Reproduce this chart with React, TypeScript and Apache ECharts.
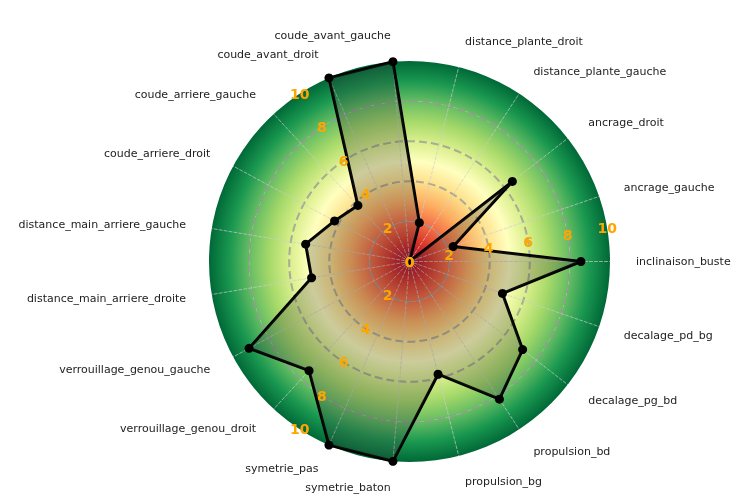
import React, { useEffect, useRef } from 'react';
import * as echarts from 'echarts';

// Axis categories (counter-clockwise starting from the right)
const categories: string[] = [
  'inclinaison_buste',
  'ancrage_gauche',
  'ancrage_droit',
  'distance_plante_gauche',
  'distance_plante_droit',
  'coude_avant_gauche',
  'coude_avant_droit',
  'coude_arriere_gauche',
  'coude_arriere_droit',
  'distance_main_arriere_gauche',
  'distance_main_arriere_droite',
  'verrouillage_genou_gauche',
  'verrouillage_genou_droit',
  'symetrie_pas',
  'symetrie_baton',
  'propulsion_bg',
  'propulsion_bd',
  'decalage_pg_bd',
  'decalage_pd_bg',
];

// Scores
const scores: number[] = [8.55, 2.3, 6.5, 0, 2.0, 10, 10, 3.8, 4.25, 5.25, 4.95, 9.1, 7.4, 10, 10, 5.8, 8.2, 7.15, 4.9];

const scoreMin = 0;
const scoreMax = 10;
const splitCount = 5; // ticks 0,2,4,6,8,10

// radial tick labels sit half-way between axes, on slots of a doubled grid
const labelSlots: number[] = [1, 13, 25];

// RdYlGn colour map (value 0..10)
const colormap: string[] = [
  '#a50026', '#d73027', '#f46d43', '#fdae61', '#fee08b', '#ffffbf',
  '#d9ef8b', '#a6d96a', '#66bd63', '#1a9850', '#006837',
];

function ringGradient(outerValue: number) {
  const stops: { offset: number; color: string }[] = [];
  for (let k = 0; k <= outerValue; k++) {
    stops.push({ offset: k / outerValue, color: colormap[k] });
  }
  return new echarts.graphic.RadialGradient(0.5, 0.5, 0.5, stops);
}

export default function App() {
  const ref = useRef<HTMLDivElement>(null);

  useEffect(() => {
    if (!ref.current) return;
    const chart = echarts.init(ref.current, undefined, { renderer: 'svg' });
    const step = (scoreMax - scoreMin) / splitCount;
    const ringColors = [];
    for (let i = 0; i < splitCount; i++) ringColors.push(ringGradient((i + 1) * step));

    const gridColor = 'rgba(150,150,150,0.75)';
    const splitColors = ['rgba(0,0,0,0)'];
    for (let i = 1; i < splitCount; i++) splitColors.push(gridColor);
    splitColors.push('rgba(0,0,0,0)');

    const center = [409.5, 261.5];
    const radius = 200.5;
    const font = 'DejaVu Sans, sans-serif';

    const labelIndicators = [];
    for (let i = 0; i < categories.length * 2; i++) {
      labelIndicators.push({
        name: '',
        min: scoreMin,
        max: scoreMax,
        axisLabel: { show: labelSlots.includes(i) },
      });
    }

    chart.setOption({
      animation: false,
      radar: [
        {
          center,
          radius,
          startAngle: 0,
          shape: 'circle',
          splitNumber: splitCount,
          indicator: categories.map((c) => ({ name: c, min: scoreMin, max: scoreMax })),
          axisName: { color: '#222222', fontSize: 11, fontFamily: font },
          nameGap: 26,
          splitArea: { show: true, areaStyle: { color: ringColors } },
          splitLine: { show: true, lineStyle: { color: splitColors, width: 2, type: [8, 4] } },
          axisLine: { show: true, lineStyle: { color: 'rgba(205,205,205,0.85)', width: 0.8, type: [3, 2] } },
          axisTick: { show: false },
          axisLabel: { show: false },
        },
        {
          center,
          radius,
          startAngle: 0,
          shape: 'circle',
          splitNumber: splitCount,
          z: 10,
          indicator: labelIndicators,
          axisName: { show: false },
          splitArea: { show: false },
          splitLine: { show: false },
          axisLine: { show: false },
          axisTick: { show: false },
          axisLabel: {
            show: false,
            color: '#FFA500',
            fontWeight: 'bold',
            fontSize: 14,
            fontFamily: font,
            margin: 0,
            align: 'center',
            verticalAlign: 'middle',
          },
        },
      ],
      series: [
        {
          type: 'radar',
          radarIndex: 0,
          symbol: 'circle',
          symbolSize: 9,
          lineStyle: { color: '#000000', width: 3 },
          itemStyle: { color: '#000000' },
          areaStyle: { color: '#333333', opacity: 0.25 },
          data: [{ value: scores, name: 'score' }],
        },
      ],
    });
    return () => chart.dispose();
  }, []);

  return <div ref={ref} style={{ position: 'fixed', left: 0, top: 0, width: 750, height: 502 }} />;
}
